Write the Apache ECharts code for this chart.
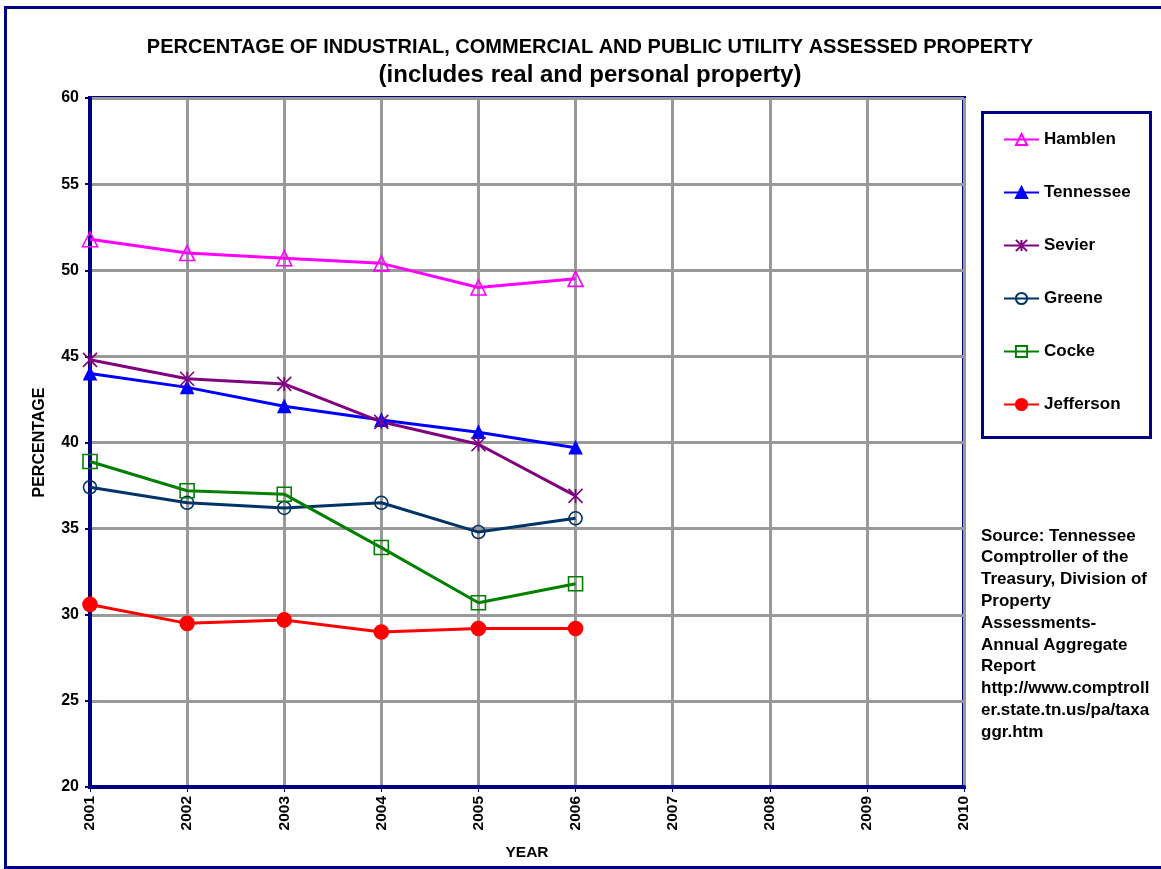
<!DOCTYPE html>
<html>
<head>
<meta charset="utf-8">
<script src="https://cdn.jsdelivr.net/npm/echarts@6/dist/echarts.min.js"></script>
<style>html,body{margin:0;padding:0;background:#fff;}#c{width:1161px;height:869px;}</style>
</head>
<body>
<div id="c"></div>
<script>
const years = ['2001','2002','2003','2004','2005','2006','2007','2008','2009','2010'];
const hamblen = [51.8, 51.0, 50.7, 50.4, 49.0, 49.5];
const tennessee = [44.0, 43.2, 42.1, 41.3, 40.6, 39.7];
const sevier = [44.8, 43.7, 43.4, 41.2, 39.9, 36.9];
const greene = [37.4, 36.5, 36.2, 36.5, 34.8, 35.6];
const cocke = [38.9, 37.2, 37.0, 33.9, 30.7, 31.8];
const jefferson = [30.6, 29.5, 29.7, 29.0, 29.2, 29.2];
const sourceLines = ['Source: Tennessee','Comptroller of the','Treasury, Division of','Property','Assessments-','Annual Aggregate','Report','http://www.comptroll','er.state.tn.us/pa/taxa','ggr.htm'];

const FONT = '"Liberation Sans", Arial, sans-serif';
const asterisk = 'path://M0,0L10,10M10,0L0,10M5,0L5,10';

function mk(name, data, color, symbol, size, hollow) {
  return {
    name: name, type: 'line', data: data, symbol: symbol, symbolSize: size,
    lineStyle: { color: color, width: 3 },
    itemStyle: { color: hollow ? 'rgba(255,255,255,0)' : color, borderColor: color, borderWidth: 1.6 },
    z: 5
  };
}

const chart = echarts.init(document.getElementById('c'), null, { renderer: 'canvas' });
chart.setOption({
  backgroundColor: '#fff',
  animation: false,
  textStyle: { fontFamily: FONT },
  title: [
    { text: 'PERCENTAGE OF INDUSTRIAL, COMMERCIAL AND PUBLIC UTILITY ASSESSED PROPERTY', left: 585, textAlign: 'center', top: 32,
      textStyle: { fontFamily: FONT, fontSize: 20, fontWeight: 'bold', color: '#000' } },
    { text: '(includes real and personal property)', left: 585, textAlign: 'center', top: 58,
      textStyle: { fontFamily: FONT, fontSize: 24, fontWeight: 'bold', color: '#000' } }
  ],
  grid: { left: 90, right: 197, top: 98, bottom: 82, show: true, borderColor: '#000080', borderWidth: 4, backgroundColor: '#fff' },
  legend: {
    orient: 'vertical', left: 998, top: 126, itemWidth: 35, itemHeight: 14, itemGap: 36,
    textStyle: { fontFamily: FONT, fontSize: 17, fontWeight: 'bold', color: '#000' },
    data: ['Hamblen','Tennessee','Sevier','Greene','Cocke','Jefferson']
  },
  xAxis: {
    type: 'category', data: years, boundaryGap: false,
    name: 'YEAR', nameLocation: 'middle', nameGap: 58,
    nameTextStyle: { fontFamily: FONT, fontSize: 15.5, fontWeight: 'bold', color: '#000' },
    axisLine: { lineStyle: { color: '#000080', width: 4 } },
    axisTick: { show: true, length: 5, lineStyle: { color: '#000080', width: 1 } },
    axisLabel: { rotate: 90, fontFamily: FONT, fontSize: 15.5, fontWeight: 'bold', color: '#000', margin: 9 },
    splitLine: { show: true, lineStyle: { color: '#999', width: 3 } }
  },
  yAxis: {
    type: 'value', min: 20, max: 60, interval: 5,
    name: 'PERCENTAGE', nameLocation: 'middle', nameGap: 42, nameRotate: 90,
    nameTextStyle: { fontFamily: FONT, fontSize: 16, fontWeight: 'bold', color: '#000' },
    axisLine: { show: true, lineStyle: { color: '#000080', width: 4 } },
    axisTick: { show: true, length: 5, lineStyle: { color: '#000080', width: 2 } },
    axisLabel: { fontFamily: FONT, fontSize: 16, fontWeight: 'bold', color: '#000', margin: 11 },
    splitLine: { show: true, lineStyle: { color: '#999', width: 3 } }
  },
  graphic: [
    { type: 'rect', left: 3, top: 5, shape: { width: 1160, height: 860 }, style: { fill: 'none', stroke: '#000080', lineWidth: 3 }, z: -10, silent: true },
    { type: 'rect', left: 981, top: 111, shape: { width: 168, height: 325 }, style: { fill: '#fff', stroke: '#000080', lineWidth: 3 }, z: -5, silent: true },
    { type: 'text', left: 981, top: 525, style: { text: sourceLines.join('\n'), fill: '#000', font: 'bold 17px ' + FONT, lineHeight: 21.8 } }
  ],
  series: [
    mk('Hamblen', hamblen, '#ff00ff', 'triangle', 15, true),
    mk('Tennessee', tennessee, '#0000ff', 'triangle', 12, false),
    mk('Sevier', sevier, '#800080', asterisk, 14, false),
    mk('Greene', greene, '#003366', 'circle', 13, true),
    mk('Cocke', cocke, '#008000', 'rect', 14, true),
    mk('Jefferson', jefferson, '#ff0000', 'circle', 14, false)
  ]
});
</script>
</body>
</html>
